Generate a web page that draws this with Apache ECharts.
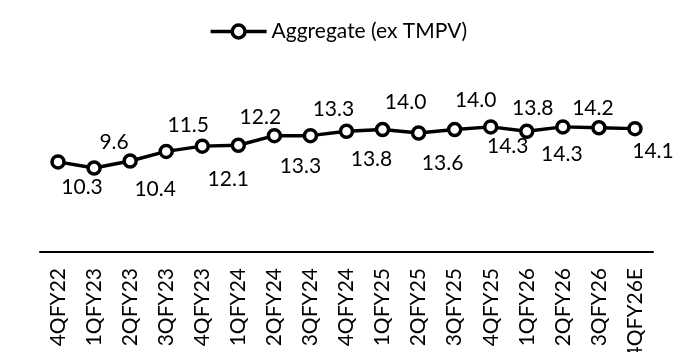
<!doctype html>
<html>
<head>
    <meta charset="utf-8"/>
    <title>Aggregate (ex TMPV)</title>
    <script src="https://cdn.jsdelivr.net/npm/echarts@6/dist/echarts.min.js"></script>
    <style>
    body { margin: 0; background-color: #fff; }
    #chart { width: 676px; height: 352px; }
    </style>
</head>
<body>
    <div id="chart"></div>
    <script>
    // 数据
    const quarters = ['4QFY22','1QFY23','2QFY23','3QFY23','4QFY23','1QFY24','2QFY24','3QFY24','4QFY24',
        '1QFY25','2QFY25','3QFY25','4QFY25','1QFY26','2QFY26','3QFY26','4QFY26E'];
    const aggregate = [10.3, 9.6, 10.4, 11.5, 12.1, 12.2, 13.3, 13.3, 13.8, 14.0, 13.6, 14.0, 14.3, 13.8, 14.3, 14.2, 14.1];
    const seriesName = 'Aggregate (ex TMPV)';

    // label nudges (px, from point centre) as placed in the original
    const labelNudge = [[24,25],[20,-26],[25,28],[22,-26],[26,33],[22,-28],[26,31],[23,-26],[25,28],
        [23,-27],[24,30],[21,-29],[17,19],[6,-23],[-1,27],[-6,-20],[18,23]];

    const font = 'Lato, "Open Sans", sans-serif';
    const chart = echarts.init(document.getElementById('chart'));
    chart.setOption({
        animation: false,
        legend: {
            top: 16,
            left: 'center',
            itemWidth: 56,
            itemHeight: 16,
            itemGap: 4,
            lineStyle: { width: 3.5, color: '#000' },
            itemStyle: { color: '#fff', borderColor: '#000', borderWidth: 3.5 },
            textStyle: { fontFamily: font, fontSize: 21, color: '#000' },
            data: [seriesName]
        },
        grid: { left: 40, right: 23, top: 112, bottom: 100, outerBoundsMode: 'none' },
        xAxis: {
            type: 'category',
            data: quarters,
            axisLine: { lineStyle: { color: '#000', width: 2 } },
            axisTick: { show: false },
            axisLabel: {
                rotate: 90, margin: 16, interval: 0,
                fontFamily: font, fontSize: 21, color: '#000'
            }
        },
        yAxis: { type: 'value', min: 0, max: 16, show: false, splitLine: { show: false } },
        series: [{
            name: seriesName,
            type: 'line',
            data: aggregate.map((v, i) => ({
                value: v,
                label: { offset: labelNudge[i] }
            })),
            symbol: 'circle',
            symbolSize: 12,
            showAllSymbol: true,
            lineStyle: { color: '#000', width: 3.5 },
            itemStyle: { color: '#fff', borderColor: '#000', borderWidth: 3.5 },
            label: {
                show: true,
                position: 'inside',
                formatter: p => p.value.toFixed(1),
                fontFamily: font, fontSize: 21, color: '#000'
            }
        }]
    });
    </script>
</body>
</html>
